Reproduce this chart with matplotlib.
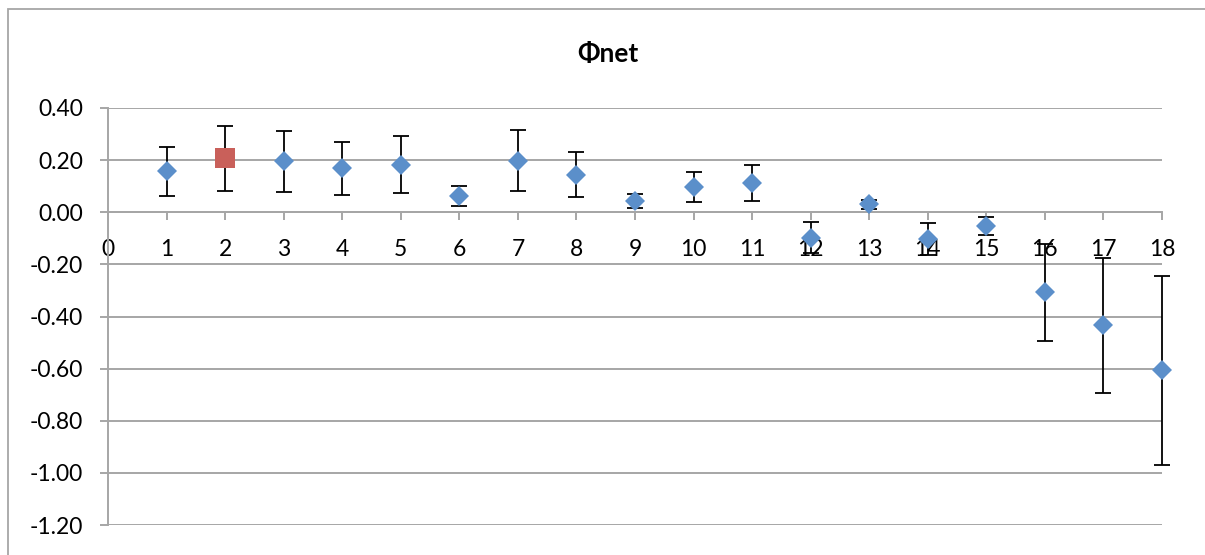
import matplotlib
matplotlib.use("Agg")
import matplotlib.pyplot as plt
from matplotlib.patches import Rectangle

# Phi_net per case, with symmetric error bars
cases = [1, 2, 3, 4, 5, 6, 7, 8, 9, 10, 11, 12, 13, 14, 15, 16, 17, 18]
phi_net = [0.158, 0.207, 0.195, 0.169, 0.183, 0.063, 0.198, 0.144, 0.043, 0.097,
           0.114, -0.098, 0.030, -0.103, -0.054, -0.307, -0.433, -0.606]
phi_err = [0.094, 0.124, 0.117, 0.101, 0.110, 0.039, 0.117, 0.086, 0.026, 0.057,
           0.069, 0.060, 0.016, 0.062, 0.034, 0.187, 0.259, 0.363]
highlight = 2  # case drawn as the red square

yticks = [0.40, 0.20, 0.00, -0.20, -0.40, -0.60, -0.80, -1.00, -1.20]
xticks = list(range(0, 19))

plt.rcParams['font.family'] = ['Lato', 'DejaVu Sans']
grey = '#A6A6A6'
blue = '#5B8FCA'
red = '#C9605A'

fig = plt.figure(figsize=(12.05, 5.55), dpi=100)
ax = fig.add_axes([108 / 1205, 1 - 525 / 555, (1162 - 108) / 1205, (525 - 108) / 555])

# chart border (only left/top visible in the crop)
fig.patches.append(Rectangle((8 / 1205, -0.1), 1.2, 1 - 9 / 555 + 0.1, transform=fig.transFigure,
                             fill=False, edgecolor=grey, linewidth=1.3))

eb = ax.errorbar(cases, phi_net, yerr=phi_err, fmt='none', ecolor='black', elinewidth=1.3,
                 capsize=5.5, capthick=1.3, zorder=3)
for art in eb.lines[1] + eb.lines[2]:
    art.set_clip_on(False)

bx = [c for c in cases if c != highlight]
by = [v for c, v in zip(cases, phi_net) if c != highlight]
ax.plot(bx, by, linestyle='none', marker='D', markersize=10.5, color=blue,
        markeredgewidth=0, zorder=4, clip_on=False)
ry = [v for c, v in zip(cases, phi_net) if c == highlight]
ax.plot([highlight], ry, linestyle='none', marker='s', markersize=14.5, color=red,
        markeredgewidth=0, zorder=4, clip_on=False)

ax.set_xlim(0, 18)
ax.set_ylim(-1.2, 0.4)
ax.set_yticks(yticks)
ax.set_yticklabels(['%.2f' % v for v in yticks])
ax.set_xticks(xticks)
ax.set_xticklabels([str(v) for v in xticks])

ax.grid(axis='y', color=grey, linewidth=1.4)
ax.set_axisbelow(True)
for s in ['top', 'right']:
    ax.spines[s].set_visible(False)
ax.spines['bottom'].set_position(('data', 0))
ax.spines['bottom'].set_color(grey)
ax.spines['bottom'].set_linewidth(1.4)
ax.spines['left'].set_color(grey)
ax.spines['left'].set_linewidth(1.4)

ax.tick_params(axis='y', direction='out', length=6, width=1.4, color=grey,
               labelsize=16.5, pad=12)
ax.tick_params(axis='x', direction='out', length=6, width=1.4, color=grey,
               labelsize=16.5, pad=13)

fig.text(608 / 1205, 1 - 54 / 555, 'Φnet', ha='center', va='center',
         fontsize=19, fontweight='bold')

fig.savefig('out.png', dpi=100)
